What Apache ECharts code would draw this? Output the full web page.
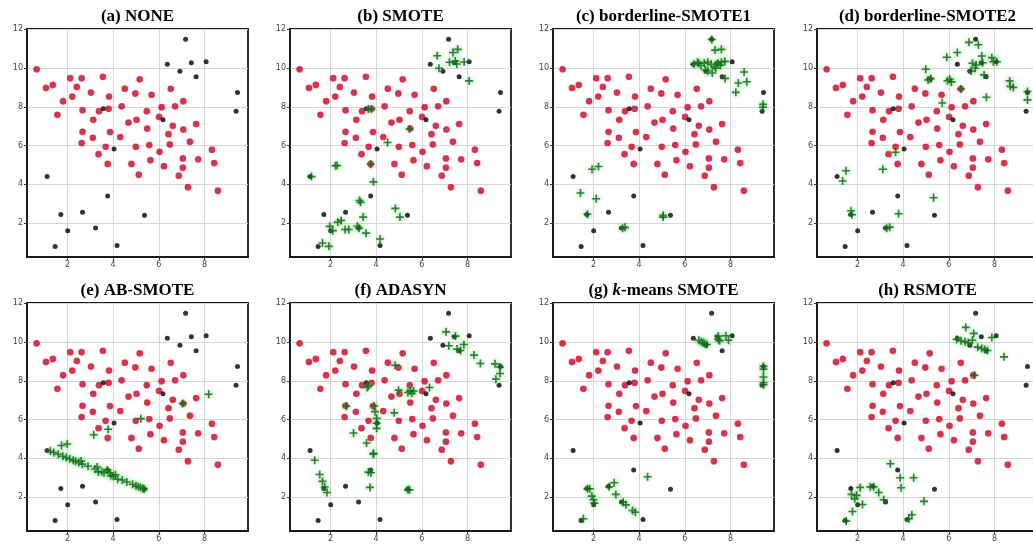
<!DOCTYPE html>
<html><head><meta charset="utf-8">
<script src="https://cdn.jsdelivr.net/npm/echarts@6/dist/echarts.min.js"></script>
<style>html,body{margin:0;padding:0;background:#fff}#c{width:1033px;height:544px}</style>
</head><body><div id="c"></div>
<script>
const titles = ['(a) NONE','(b) SMOTE','(c) borderline-SMOTE1','(d) borderline-SMOTE2','(e) AB-SMOTE','(f) ADASYN','(g) {i|k}-means SMOTE','(h) RSMOTE'];
const xTicks = [2,4,6,8];
const yTicks = [2,4,6,8,10,12];

const majority = [[0.65,9.94],[1.06,8.98],[1.36,9.13],[1.56,7.59],[1.81,8.29],[2.12,9.48],[2.21,8.53],[2.41,9.03],[2.62,9.48],[2.66,7.83],[2.66,6.71],[2.62,6.13],[3.03,8.74],[3.13,7.33],[3.11,6.40],[3.36,5.56],[3.38,7.78],[3.55,9.55],[3.67,5.94],[3.80,7.90],[3.82,8.53],[3.76,5.05],[3.86,6.70],[4.31,6.44],[4.37,8.03],[4.51,8.94],[4.67,7.19],[4.80,5.05],[4.97,8.69],[4.99,5.94],[5.02,7.33],[5.16,9.42],[5.12,4.50],[5.47,7.78],[5.49,6.88],[5.58,6.03],[5.63,5.25],[5.68,8.62],[6.01,7.48],[6.03,5.68],[6.12,7.98],[6.22,4.94],[6.42,6.59],[6.48,6.06],[6.52,8.93],[6.61,7.02],[6.71,8.03],[6.87,4.45],[7.07,6.83],[7.07,8.29],[7.05,5.34],[7.05,4.86],[7.27,3.85],[7.36,6.20],[7.63,7.11],[7.72,5.29],[8.32,5.79],[8.42,5.10],[8.58,3.67]];
const minority = [[7.17,11.49],[6.37,10.2],[7.42,10.28],[8.07,10.33],[6.92,9.84],[7.63,9.55],[9.44,8.74],[9.38,7.78],[3.57,7.9],[6.18,7.33],[4.04,5.82],[1.11,4.4],[3.76,3.4],[1.71,2.44],[2.66,2.56],[5.37,2.40],[2.01,1.6],[3.23,1.75],[1.46,0.79],[4.17,0.84]];

const synNone = [];
const synSMOTE = [[7.57,10.97],[7.36,10.81],[6.67,10.64],[7.46,10.37],[7.21,10.30],[7.53,10.21],[7.85,10.32],[6.75,9.99],[8.07,9.34],[3.79,7.89],[3.66,7.89],[5.46,6.86],[4.50,6.16],[2.29,4.97],[2.22,4.96],[1.17,4.40],[3.76,5.04],[3.88,4.13],[3.27,3.17],[3.32,3.07],[3.43,2.31],[4.84,2.76],[5.04,2.31],[2.32,2.05],[2.47,2.14],[2.10,1.61],[1.97,1.83],[2.64,1.67],[2.80,1.67],[3.18,1.85],[3.25,1.74],[3.56,1.48],[1.65,0.97],[1.93,0.80],[4.17,1.18]];
const synBorder1 = [[7.18,11.48],[7.32,10.93],[7.60,10.97],[6.40,10.2],[6.55,10.3],[6.70,10.15],[6.85,10.25],[7.00,10.3],[7.15,10.2],[7.30,10.1],[7.45,10.25],[7.60,10.3],[7.75,10.35],[6.90,9.9],[7.00,9.85],[7.20,9.75],[7.35,10.0],[7.55,10.15],[6.60,10.25],[7.76,9.47],[8.59,9.8],[8.34,9.23],[8.71,9.30],[8.23,8.75],[9.42,8.13],[9.42,7.98],[1.94,4.78],[2.22,4.92],[1.43,3.55],[2.12,3.26],[1.74,2.46],[3.28,1.73],[3.38,1.78],[5.05,2.40],[5.05,2.31]];
const synBorder2 = [[6.88,11.33],[7.29,11.21],[6.37,10.81],[5.91,10.56],[7.03,10.25],[7.15,9.99],[6.97,9.85],[7.19,10.16],[7.44,10.63],[7.48,10.28],[7.88,10.54],[7.95,10.33],[8.10,10.33],[7.54,9.65],[7.64,8.50],[4.99,9.94],[5.09,9.39],[5.21,9.46],[5.94,9.35],[6.04,9.42],[6.11,9.29],[5.71,8.20],[6.53,8.92],[8.66,9.34],[8.69,9.06],[8.82,9.0],[9.44,8.79],[9.44,8.36],[1.50,4.70],[1.35,4.17],[1.72,2.64],[1.76,2.43],[3.11,4.78],[3.67,5.66],[3.80,2.48],[3.28,1.74],[3.41,1.79],[5.33,3.31]];
const synAB = [[1.25,4.38],[1.4,4.30],[1.6,4.21],[1.8,4.11],[1.95,4.04],[2.1,3.97],[2.25,3.90],[2.35,3.85],[2.5,3.78],[2.6,3.86],[2.65,3.70],[2.9,3.59],[3.2,3.45],[3.3,3.55],[3.35,3.30],[3.5,3.31],[3.6,3.26],[3.75,3.40],[3.85,3.25],[3.9,3.11],[4.0,3.07],[4.1,3.15],[4.2,2.92],[4.4,2.88],[4.6,2.78],[4.85,2.66],[5.0,2.59],[5.1,2.54],[5.2,2.50],[5.3,2.45],[5.35,2.42],[1.74,4.66],[1.99,4.74],[3.15,5.22],[3.78,5.50],[5.21,6.05],[7.04,6.83],[8.18,7.31]];
const synADASYN = [[7.06,10.53],[7.47,10.31],[7.18,9.81],[7.54,9.64],[7.69,9.57],[7.84,9.88],[8.28,9.33],[8.56,8.90],[9.20,8.88],[9.42,8.72],[9.42,8.38],[9.24,8.09],[4.83,8.81],[4.98,7.52],[5.39,7.40],[5.56,7.36],[5.49,7.48],[5.64,7.48],[6.33,7.66],[3.61,7.66],[3.66,7.74],[3.91,6.70],[3.95,6.41],[4.02,6.07],[4.02,5.81],[4.02,5.55],[3.88,4.26],[3.88,4.21],[2.70,6.69],[3.01,5.31],[3.58,4.79],[3.66,3.29],[3.77,3.26],[3.73,2.50],[4.79,6.35],[1.31,3.90],[1.53,3.17],[1.65,2.81],[1.75,2.52],[1.85,2.24],[5.39,2.38],[5.46,2.38]];
const synKMeans = [[6.61,10.10],[6.71,10.02],[6.79,9.97],[6.86,9.93],[6.96,9.88],[7.46,10.31],[7.46,10.14],[7.52,10.07],[7.80,10.33],[7.91,10.10],[9.44,8.75],[9.44,8.6],[9.44,8.2],[9.44,7.9],[9.44,7.8],[1.56,0.88],[1.74,2.43],[1.84,2.43],[1.93,2.05],[2.0,1.86],[2.04,1.69],[2.69,2.53],[2.91,2.74],[2.98,2.14],[3.30,1.74],[3.42,1.60],[3.71,1.31],[3.83,1.22],[4.37,3.05]];
const synRSMOTE = [[6.74,10.76],[7.09,10.45],[6.34,10.14],[6.53,10.07],[6.71,10.02],[6.85,9.97],[7.03,10.10],[7.26,9.74],[7.44,9.67],[7.57,9.62],[7.69,9.57],[7.88,10.24],[8.41,9.24],[7.12,8.29],[3.44,3.72],[3.87,3.0],[4.46,3.0],[3.91,2.48],[4.91,1.78],[4.38,1.09],[4.25,0.88],[1.51,0.76],[1.78,1.26],[2.22,1.62],[1.74,2.14],[1.88,1.91],[1.96,2.09],[2.12,2.50],[2.56,2.53],[2.71,2.53],[2.93,2.24],[3.15,1.86]];
const synthetic = [synNone,synSMOTE,synBorder1,synBorder2,synAB,synADASYN,synKMeans,synRSMOTE];

const lefts = [27,290,553,817,27,290,553,817];
const tops = [29,29,29,29,303,303,303,303];
const W = 221, H = 228;
const plusPath = 'path://M4,0H6V4H10V6H6V10H4V6H0V4H4Z';

const grid=[], xAxis=[], yAxis=[], series=[], graphic=[];
for (let i=0;i<8;i++){
  grid.push({left:lefts[i],top:tops[i],width:W,height:H,show:true,borderColor:'#1a1a1a',borderWidth:1.8,backgroundColor:'transparent',outerBoundsMode:'none',containLabel:false});
  xAxis.push({gridIndex:i,type:'value',min:0.23,max:9.9,
    axisLine:{show:true,lineStyle:{color:'#1a1a1a',width:1.8}},
    axisTick:{show:true,customValues:xTicks,length:3,lineStyle:{color:'#333'}},
    axisLabel:{customValues:xTicks,fontSize:8,color:'#444',margin:4,fontFamily:'DejaVu Sans'},
    splitLine:{show:true,lineStyle:{color:'#d6d6d6',width:1}}});
  yAxis.push({gridIndex:i,type:'value',min:0.25,max:12.02,
    axisLine:{show:true,lineStyle:{color:'#1a1a1a',width:1.8}},
    axisTick:{show:true,customValues:yTicks,length:3,lineStyle:{color:'#333'}},
    axisLabel:{customValues:yTicks,fontSize:8,color:'#444',margin:4,fontFamily:'DejaVu Sans'},
    splitLine:{show:true,lineStyle:{color:'#d6d6d6',width:1}}});
  series.push({type:'scatter',xAxisIndex:i,yAxisIndex:i,data:majority,symbol:'circle',symbolSize:5.5,itemStyle:{color:'#9a1a38',borderColor:'#ff1030',borderWidth:1.3},silent:true});
  series.push({type:'scatter',xAxisIndex:i,yAxisIndex:i,data:minority,symbol:'circle',symbolSize:5,itemStyle:{color:'#000'},silent:true});
  if (synthetic[i].length) series.push({type:'scatter',xAxisIndex:i,yAxisIndex:i,data:synthetic[i],symbol:plusPath,symbolSize:8,itemStyle:{color:'#0c5e18',shadowBlur:4,shadowColor:'rgba(70,210,70,0.85)'},silent:true});
  graphic.push({type:'text',x:lefts[i]+W/2,y:tops[i]-12,silent:true,style:{text:titles[i],fill:'#000',font:'bold 17px "Liberation Serif"',align:'center',verticalAlign:'middle',rich:{i:{font:'italic bold 17px "Liberation Serif"',fill:'#000'}}}});
}
const chart = echarts.init(document.getElementById('c'),null,{renderer:'canvas'});
chart.setOption({animation:false,backgroundColor:'#fff',grid,xAxis,yAxis,series,graphic});
</script></body></html>
